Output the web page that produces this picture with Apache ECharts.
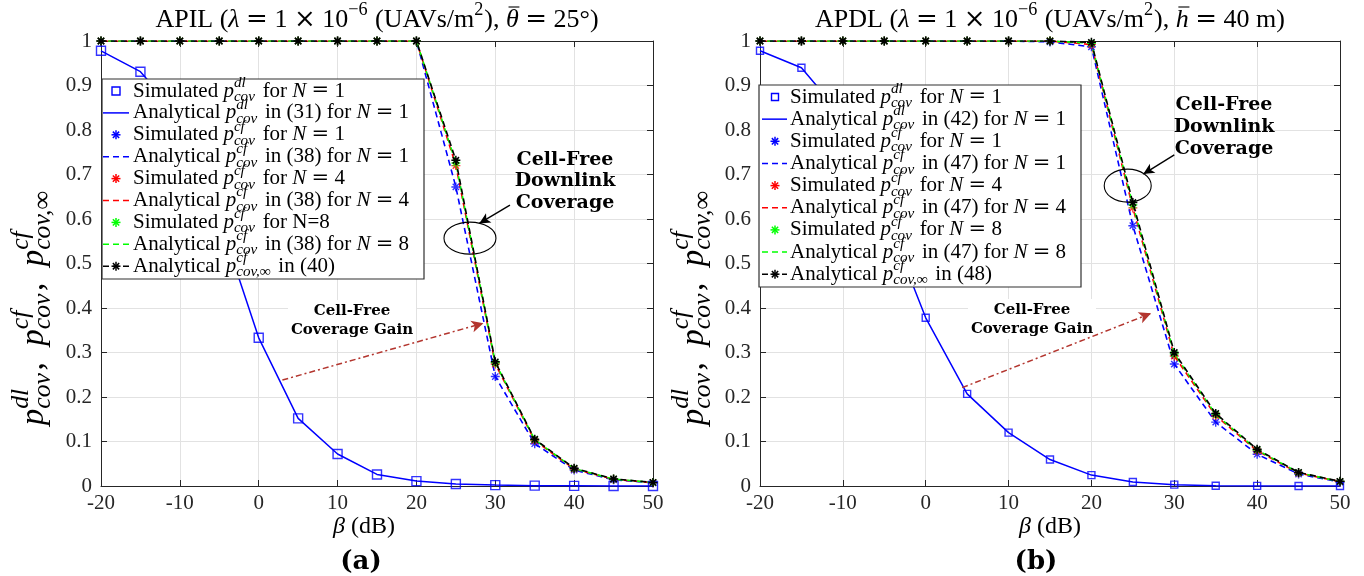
<!DOCTYPE html>
<html><head><meta charset="utf-8">
<script src="https://cdn.jsdelivr.net/npm/echarts@6/dist/echarts.min.js"></script>
<style>html,body{margin:0;padding:0;background:#fff}#main{width:1364px;height:576px}</style>
</head><body><div id="main"></div>
<script>
// ---------------- DATA ----------------
const beta = [-20,-15,-10,-5,0,5,10,15,20,25,30,35,40,45,50];
const xTicks = [-20,-10,0,10,20,30,40,50];
const yTicks = [0,0.1,0.2,0.3,0.4,0.5,0.6,0.7,0.8,0.9,1];

// (a) APIL
const a_dl    = [0.978,0.931,0.83,0.60,0.333,0.152,0.072,0.026,0.011,0.0045,0.002,0.0008,0.0003,0.0001,0];
const a_cfN1  = [1,1,1,1,1,1,1,1,1,0.672,0.246,0.095,0.036,0.014,0.007];
const a_cfN4  = [1,1,1,1,1,1,1,1,1,0.720,0.274,0.102,0.038,0.015,0.0075];
const a_cfN8  = [1,1,1,1,1,1,1,1,1,0.726,0.277,0.104,0.039,0.0155,0.0078];
const a_cfInf = [1,1,1,1,1,1,1,1,1,0.732,0.279,0.105,0.040,0.016,0.008];

// (b) APDL
const b_dl    = [0.978,0.94,0.83,0.615,0.378,0.207,0.120,0.0595,0.0245,0.009,0.003,0.0006,0.0002,0.0001,0];
const b_cfN1  = [1,1,1,1,1,1,1,0.998,0.987,0.585,0.274,0.1435,0.0714,0.027,0.009];
const b_cfN4  = [1,1,1,1,1,1,1,1,0.992,0.625,0.292,0.158,0.079,0.029,0.0098];
const b_cfN8  = [1,1,1,1,1,1,1,1,0.995,0.632,0.297,0.161,0.081,0.030,0.010];
const b_cfInf = [1,1,1,1,1,1,1,1,0.997,0.637,0.300,0.163,0.0825,0.0305,0.0104];

// text ('op' = math operator with surrounding spaces)
const titleA = [['rm','APIL ('],['it','λ'],['op','='],['rm','1'],['op','×'],['rm','10'],['sup','−6'],['rm',' (UAVs/m'],['sup','2'],['rm','), '],['bar','θ'],['op','='],['rm','25°)']];
const titleB = [['rm','APDL ('],['it','λ'],['op','='],['rm','1'],['op','×'],['rm','10'],['sup','−6'],['rm',' (UAVs/m'],['sup','2'],['rm','), '],['bar','h'],['op','='],['rm','40 m)']];
const xLabel = [['it','β'],['rm',' (dB)']];
const yLabel = [['it','p'],['ss','cov','dl'],['rm',',  '],['it','p'],['ss','cov','cf'],['rm',',  '],['it','p'],['ss','cov,∞','cf']];
const subA = '(a)', subB = '(b)';
const legendA = [
 [['rm','Simulated '],['it','p'],['ss','cov','dl'],['rm',' for '],['it','N'],['op','='],['rm','1']],
 [['rm','Analytical '],['it','p'],['ss','cov','dl'],['rm',' in (31) for '],['it','N'],['op','='],['rm','1']],
 [['rm','Simulated '],['it','p'],['ss','cov','cf'],['rm',' for '],['it','N'],['op','='],['rm','1']],
 [['rm','Analytical '],['it','p'],['ss','cov','cf'],['rm',' in (38) for '],['it','N'],['op','='],['rm','1']],
 [['rm','Simulated '],['it','p'],['ss','cov','cf'],['rm',' for '],['it','N'],['op','='],['rm','4']],
 [['rm','Analytical '],['it','p'],['ss','cov','cf'],['rm',' in (38) for '],['it','N'],['op','='],['rm','4']],
 [['rm','Simulated '],['it','p'],['ss','cov','cf'],['rm',' for N=8']],
 [['rm','Analytical '],['it','p'],['ss','cov','cf'],['rm',' in (38) for '],['it','N'],['op','='],['rm','8']],
 [['rm','Analytical '],['it','p'],['ss','cov,∞','cf'],['rm',' in (40)']]
];
const legendB = [
 [['rm','Simulated '],['it','p'],['ss','cov','dl'],['rm',' for '],['it','N'],['op','='],['rm','1']],
 [['rm','Analytical '],['it','p'],['ss','cov','dl'],['rm',' in (42) for '],['it','N'],['op','='],['rm','1']],
 [['rm','Simulated '],['it','p'],['ss','cov','cf'],['rm',' for '],['it','N'],['op','='],['rm','1']],
 [['rm','Analytical '],['it','p'],['ss','cov','cf'],['rm',' in (47) for '],['it','N'],['op','='],['rm','1']],
 [['rm','Simulated '],['it','p'],['ss','cov','cf'],['rm',' for '],['it','N'],['op','='],['rm','4']],
 [['rm','Analytical '],['it','p'],['ss','cov','cf'],['rm',' in (47) for '],['it','N'],['op','='],['rm','4']],
 [['rm','Simulated '],['it','p'],['ss','cov','cf'],['rm',' for '],['it','N'],['op','='],['rm','8']],
 [['rm','Analytical '],['it','p'],['ss','cov','cf'],['rm',' in (47) for '],['it','N'],['op','='],['rm','8']],
 [['rm','Analytical '],['it','p'],['ss','cov,∞','cf'],['rm',' in (48)']]
];
const annDownlink = ['Cell-Free','Downlink','Coverage'];
const annGain = ['Cell-Free','Coverage Gain'];
// annotation anchor points in data coordinates
const a_ellipse = [26.79,0.557], b_ellipse = [24.38,0.675];
const a_blackArrow = [[31.86,0.631],[27.97,0.590]], b_blackArrow = [[30.0,0.744],[26.26,0.701]];
const a_redArrow = [[3.0,0.238],[28.5,0.366]], b_redArrow = [[4.4,0.221],[27.2,0.388]];

// ---------------- STYLE ----------------
const BLUE='#0000ff', RED='#ff0000', GREEN='#00ff00', BLACK='#000000', ARROWRED='#b3352e';
const SERIF='"Liberation Serif"', BOLDF='"DejaVu Serif"', OPF='"DejaVu Serif"';
const STAR='path://M5,0L5,10M0,5L10,5M1.5,1.5L8.5,8.5M1.5,8.5L8.5,1.5';
const cv=document.createElement('canvas').getContext('2d');
function fnt(size,it,bold,fam){return (it?'italic ':'')+(bold?'bold ':'')+size+'px '+(fam||SERIF);}
function mw(t,f){cv.font=f;return cv.measureText(t).width;}
function T(text,x,y,size,o){o=o||{};const f=fnt(size,o.it,o.bold,o.fam);
 return {type:'text',silent:true,z:200,style:{text:text,x:x,y:y,font:f,fill:o.fill||'#000',align:o.align||'left',verticalAlign:'middle',textAlign:o.align||'left',textVerticalAlign:'middle'}};}
function pieceW(p,size,s2){
 if(p[0]==='ss') return Math.max(mw(p[1],fnt(s2,true)),mw(p[2],fnt(s2,true)))+2.5;
 if(p[0]==='sup') return mw(p[1],fnt(s2,false))+1;
 if(p[0]==='op') return mw(p[1],fnt(size,false,false,OPF))+size*0.5;
 return mw(p[1],fnt(size,p[0]!=='rm'));}
function runWidth(pieces,size,sc){const s2=size*(sc||0.7);let w=0;for(const p of pieces)w+=pieceW(p,size,s2);return w;}
function run(pieces,size,x,y,sc){const els=[];const s2=size*(sc||0.7);
 for(const p of pieces){const w=pieceW(p,size,s2);
  if(p[0]==='ss'){els.push(T(p[1],x,y+size*0.29,s2,{it:true}));els.push(T(p[2],x,y-size*0.38,s2,{it:true}));}
  else if(p[0]==='sup'){els.push(T(p[1],x,y-size*0.36,s2));}
  else if(p[0]==='op'){els.push(T(p[1],x+size*0.25,y,size,{fam:OPF}));}
  else if(p[0]==='bar'){els.push(T(p[1],x,y,size,{it:true}));
   els.push({type:'line',silent:true,z:200,shape:{x1:x+w*0.2,y1:y-size*0.5,x2:x+w*1.05,y2:y-size*0.5},style:{stroke:'#000',lineWidth:1.1}});}
  else {els.push(T(p[1],x,y,size,{it:p[0]==='it'}));}
  x+=w;
 } return els;}
function centered(pieces,size,cx,cy,sc){return run(pieces,size,cx-runWidth(pieces,size,sc)/2,cy,sc);}

// ---------------- CHART ----------------
const chart=echarts.init(document.getElementById('main'),null,{renderer:'canvas'});
const grids=[{left:101,top:41,width:552,height:445},{left:760,top:41,width:580,height:445}];
const AX='#262626', GRID='#e2e2e2';
const xAxes=[],yAxes=[];
grids.forEach((g,i)=>{
 xAxes.push({type:'value',gridIndex:i,min:xTicks[0],max:xTicks[xTicks.length-1],interval:10,position:'bottom',
  axisLine:{show:true,onZero:false,lineStyle:{color:AX,width:1}},axisTick:{show:true,inside:true,length:6,lineStyle:{color:AX}},
  axisLabel:{show:true,margin:7,color:'#262626',fontFamily:SERIF,fontSize:21,formatter:v=>String(v)},
  splitLine:{show:true,lineStyle:{color:GRID,width:1}}});
 xAxes.push({type:'value',gridIndex:i,min:xTicks[0],max:xTicks[xTicks.length-1],interval:10,position:'top',
  axisLine:{show:true,onZero:false,lineStyle:{color:AX,width:1}},axisTick:{show:true,inside:true,length:6,lineStyle:{color:AX}},
  axisLabel:{show:false},splitLine:{show:false}});
 yAxes.push({type:'value',gridIndex:i,min:0,max:1,interval:0.1,position:'left',
  axisLine:{show:true,onZero:false,lineStyle:{color:AX,width:1}},axisTick:{show:true,inside:true,length:6,lineStyle:{color:AX}},
  axisLabel:{show:true,margin:9,color:'#262626',fontFamily:SERIF,fontSize:21,formatter:v=>String(parseFloat(v.toFixed(1)))},
  splitLine:{show:true,lineStyle:{color:GRID,width:1}}});
 yAxes.push({type:'value',gridIndex:i,min:0,max:1,interval:0.1,position:'right',
  axisLine:{show:true,onZero:false,lineStyle:{color:AX,width:1}},axisTick:{show:true,inside:true,length:6,lineStyle:{color:AX}},
  axisLabel:{show:false},splitLine:{show:false}});
});
function pts(arr){return beta.map((b,i)=>[b,arr[i]]);}
function panelSeries(gi,dl,n1,n4,n8,inf,sq,redArrow,blackArrow){
 const xi=gi*2, yi=gi*2;
 const base={xAxisIndex:xi,yAxisIndex:yi,animation:false,silent:true};
 const dash=[6,4];
 const sim=(d,c)=>Object.assign({},base,{type:'scatter',data:pts(d),symbol:STAR,symbolSize:9,itemStyle:{color:'rgba(0,0,0,0)',borderColor:c,borderWidth:1.4},z:5});
 const ana=(d,c,off)=>Object.assign({},base,{type:'line',data:pts(d),showSymbol:false,symbol:'none',lineStyle:{color:c,width:1.6,type:dash,dashOffset:off},z:4});
 return [
  Object.assign({},base,{type:'scatter',data:pts(dl),symbol:'rect',symbolSize:sq,itemStyle:{color:'rgba(0,0,0,0)',borderColor:BLUE,borderWidth:1.4},z:6}),
  Object.assign({},base,{type:'line',data:pts(dl),showSymbol:false,symbol:'none',lineStyle:{color:BLUE,width:1.5},z:4,
   markLine:{silent:true,animation:false,symbol:['none','arrow'],symbolSize:[9,12],label:{show:false},
    lineStyle:{color:ARROWRED,width:1.5,type:[6,3,2,3]},data:[[{coord:redArrow[0]},{coord:redArrow[1]}]]}}),
  sim(n1,BLUE), ana(n1,BLUE,1.5),
  sim(n4,RED), ana(n4,RED,6),
  sim(n8,GREEN), ana(n8,GREEN,3),
  Object.assign({},base,{type:'line',data:pts(inf),showSymbol:true,symbol:STAR,symbolSize:9,
   itemStyle:{color:'rgba(0,0,0,0)',borderColor:BLACK,borderWidth:1.5},lineStyle:{color:BLACK,width:1.6,type:dash,dashOffset:0},z:7,
   markLine:{silent:true,animation:false,symbol:['none','arrow'],symbolSize:[8,11],label:{show:false},
    lineStyle:{color:'#000',width:1.4,type:'solid'},data:[[{coord:blackArrow[0]},{coord:blackArrow[1]}]]}})
 ];
}
const series=[].concat(
 panelSeries(0,a_dl,a_cfN1,a_cfN4,a_cfN8,a_cfInf,9,a_redArrow,a_blackArrow),
 panelSeries(1,b_dl,b_cfN1,b_cfN4,b_cfN8,b_cfInf,7,b_redArrow,b_blackArrow));

chart.setOption({animation:false,backgroundColor:'#fff',grid:grids,xAxis:xAxes,yAxis:yAxes,series:series});

// ---------------- GRAPHICS (text, legends, annotations) ----------------
const G=[];
const colorsL=[BLUE,BLUE,BLUE,BLUE,RED,RED,GREEN,GREEN,BLACK];
const kinds=['sq','line','star','dash','star','dash','star','dash','dashstar'];
function L(x1,y1,x2,y2,c,w,dash){const s={stroke:c,lineWidth:w};if(dash)s.lineDash=dash;
 return {type:'line',silent:true,z:201,shape:{x1:x1,y1:y1,x2:x2,y2:y2},style:s};}
function legend(box,rows,y0,dy,sx,lx1,lx2,tx,sq){
 G.push({type:'rect',silent:true,z:150,shape:{x:box[0],y:box[1],width:box[2]-box[0],height:box[3]-box[1]},style:{fill:'#fff',stroke:'#303030',lineWidth:1.2}});
 rows.forEach((r,i)=>{const y=y0+dy*i;const c=colorsL[i];const k=kinds[i];
  if(k==='sq') G.push({type:'rect',silent:true,z:200,shape:{x:sx-sq/2,y:y-sq/2,width:sq,height:sq},style:{fill:'none',stroke:c,lineWidth:1.4}});
  if(k==='line') G.push(L(lx1,y,lx2,y,c,1.5));
  if(k==='dash'||k==='dashstar') G.push(L(lx1,y,lx2,y,c,1.6,[6,4]));
  if(k==='star'||k==='dashstar'){const s=4.5,d=s*0.7;
   G.push(L(sx,y-s,sx,y+s,c,1.5));G.push(L(sx-s,y,sx+s,y,c,1.5));
   G.push(L(sx-d,y-d,sx+d,y+d,c,1.5));G.push(L(sx-d,y+d,sx+d,y-d,c,1.5));}
  run(r,21,tx,y,0.72).forEach(e=>G.push(e));
 });
}
legend([102,79,424,279],legendA,91,21.9,116,103,129,133,8);
legend([759,85,1081,287],legendB,97,22.15,775,762,787,790,7);

centered(titleA,26,377,20).forEach(e=>G.push(e));
centered(titleB,26,1050,20).forEach(e=>G.push(e));
centered(xLabel,24,364,527).forEach(e=>G.push(e));
centered(xLabel,24,1050,527).forEach(e=>G.push(e));
G.push(T(subA,361,562,26,{bold:true,fam:BOLDF,align:'center'}));
G.push(T(subB,1036,562,26,{bold:true,fam:BOLDF,align:'center'}));
// rotated y labels
[[34,307],[694,307]].forEach(p=>{const sz=33;const w=runWidth(yLabel,sz,0.78);
 G.push({type:'group',x:p[0],y:p[1],rotation:Math.PI/2,silent:true,children:run(yLabel,sz,-w/2,0,0.78)});});
// annotations
annDownlink.forEach((t,i)=>G.push(T(t,565,160+21.5*i,19,{bold:true,fam:BOLDF,align:'center'})));
annDownlink.forEach((t,i)=>G.push(T(t,1224,105+22*i,19,{bold:true,fam:BOLDF,align:'center'})));
function gainText(cx,cy){
 G.push({type:'rect',silent:true,z:1,shape:{x:cx-64,y:cy-11,width:128,height:40},style:{fill:'#fff'}});
 annGain.forEach((t,i)=>G.push(T(t,cx,cy+19*i,15,{bold:true,fam:BOLDF,align:'center'})));
}
gainText(352,311); gainText(1032,310);
// ellipses positioned through the axes
const ea=chart.convertToPixel({gridIndex:0},a_ellipse), eb=chart.convertToPixel({gridIndex:1},b_ellipse);
G.push({type:'ellipse',silent:true,z:190,shape:{cx:ea[0],cy:ea[1],rx:26,ry:16},style:{fill:'none',stroke:'#000',lineWidth:1.1}});
G.push({type:'ellipse',silent:true,z:190,shape:{cx:eb[0],cy:eb[1],rx:23.5,ry:16.5},style:{fill:'none',stroke:'#000',lineWidth:1.1}});
chart.setOption({graphic:{elements:G}});
</script></body></html>
